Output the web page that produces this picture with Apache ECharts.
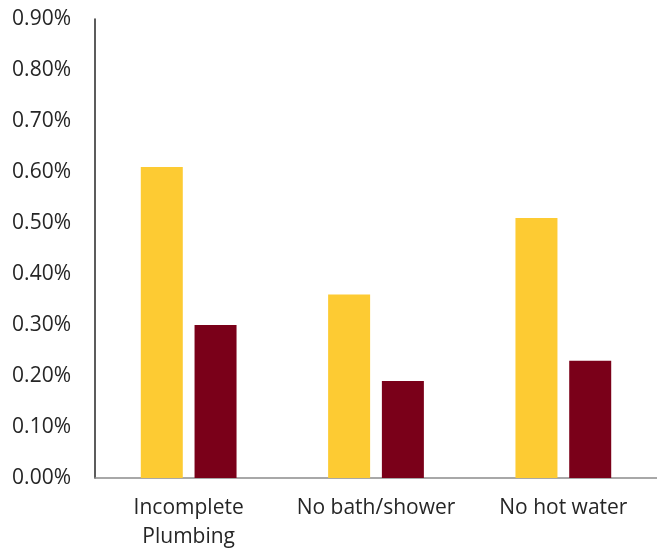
<!DOCTYPE html>
<html>
<head>
<meta charset="utf-8">
<script src="https://cdn.jsdelivr.net/npm/echarts@6/dist/echarts.min.js"></script>
<style>
  html, body { margin: 0; padding: 0; background: #fff; }
  #chart { width: 657px; height: 552px; }
</style>
</head>
<body>
<div id="chart"></div>
<script>
// Share of housing units lacking each facility (percent)
const categories = ['Incomplete\nPlumbing', 'No bath/shower', 'No hot water'];
const goldValues = [0.61, 0.36, 0.51];
const maroonValues = [0.30, 0.19, 0.23];
const yTicks = { min: 0, max: 0.9, interval: 0.1 };

const font = '"Open Sans", "Noto Sans", sans-serif';
const chart = echarts.init(document.getElementById('chart'), null, { renderer: 'canvas' });

chart.setOption({
  animation: false,
  backgroundColor: '#ffffff',
  grid: { left: 95, top: 19, bottom: 71, right: -6, containLabel: false },
  xAxis: {
    type: 'category',
    data: categories,
    axisLine: { show: true, lineStyle: { color: '#8c8c8c', width: 1.5 } },
    axisTick: { show: false },
    axisLabel: {
      color: '#262626', fontFamily: font, fontSize: 21,
      lineHeight: 29, margin: 16, interval: 0
    }
  },
  yAxis: {
    type: 'value',
    min: yTicks.min, max: yTicks.max, interval: yTicks.interval,
    axisLine: { show: true, lineStyle: { color: '#262626', width: 1.5 } },
    axisTick: { show: false },
    splitLine: { show: false },
    axisLabel: {
      color: '#262626', fontFamily: font, fontSize: 21, margin: 24,
      formatter: v => v.toFixed(2) + '%'
    }
  },
  series: [
    {
      type: 'bar', data: goldValues, barWidth: 42, barGap: '28%',
      itemStyle: { color: '#FDCB33' }
    },
    {
      type: 'bar', data: maroonValues, barWidth: 42, barGap: '28%',
      itemStyle: { color: '#7A0019' }
    }
  ]
});
</script>
</body>
</html>
